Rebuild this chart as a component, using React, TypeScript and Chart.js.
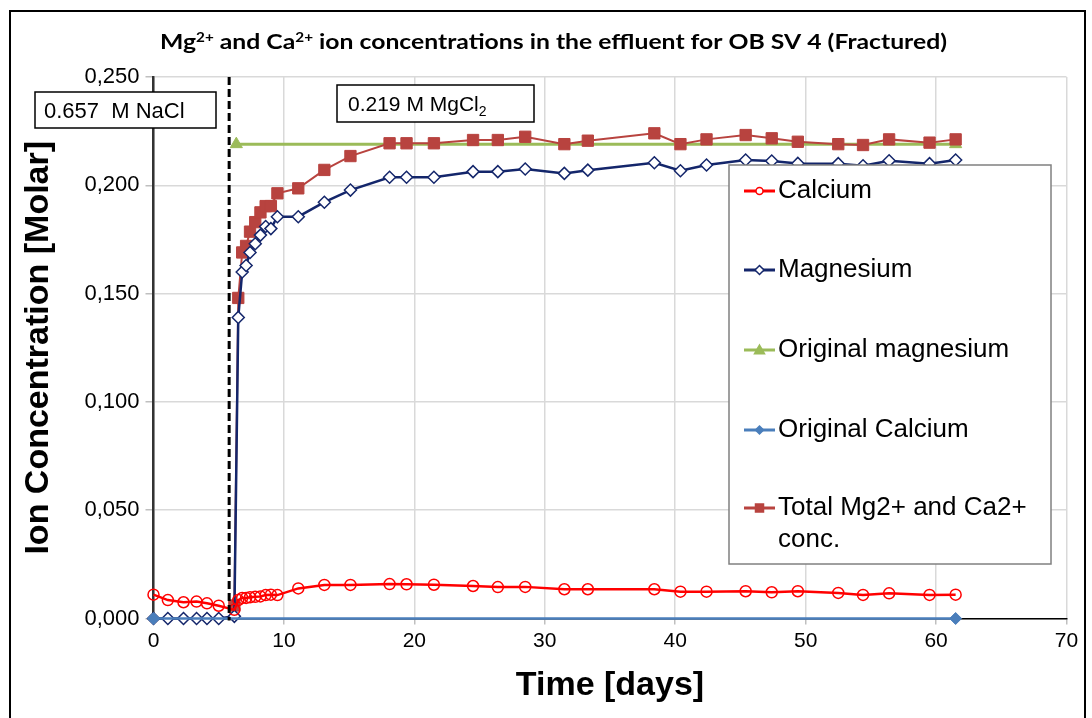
import React, { useEffect, useRef } from "react";
import { Chart, registerables } from "chart.js";

Chart.register(...registerables);

// ---- data ----
const days = [
  0, 1.1, 2.3, 3.3, 4.1, 5.0, 6.2, 6.5, 6.8, 7.1, 7.4, 7.8, 8.2, 8.6, 9.0, 9.5,
  11.1, 13.1, 15.1, 18.1, 19.4, 21.5, 24.5, 26.4, 28.5, 31.5, 33.3, 38.4, 40.4,
  42.4, 45.4, 47.4, 49.4, 52.5, 54.4, 56.4, 59.5, 61.5,
];
const calcium = [
  0.011, 0.0085, 0.0075, 0.0078, 0.007, 0.0059, 0.004, 0.0085, 0.0095, 0.0095,
  0.0098, 0.01, 0.0102, 0.0108, 0.011, 0.0108, 0.0139, 0.0155, 0.0155, 0.0159,
  0.0158, 0.0156, 0.015, 0.0145, 0.0146, 0.0135, 0.0135, 0.0135, 0.0124, 0.0124,
  0.0126, 0.0121, 0.0126, 0.0118, 0.0109, 0.0116, 0.0109, 0.011,
];
const magnesium = [
  0, 0, 0, 0, 0, 0, 0.001, 0.139, 0.16, 0.163, 0.169, 0.173, 0.177, 0.181, 0.18,
  0.1855, 0.1855, 0.1922, 0.1978, 0.2037, 0.2037, 0.2037, 0.2063, 0.2063, 0.2075,
  0.2055, 0.207, 0.2104, 0.2067, 0.2094, 0.2117, 0.2112, 0.2101, 0.21, 0.209,
  0.2113, 0.21, 0.2117,
];
const total = [
  null, null, null, null, null, null, 0.006, 0.148, 0.169, 0.172, 0.1786, 0.183,
  0.1875, 0.1904, 0.1904, 0.1963, 0.1986, 0.2071, 0.2135, 0.2194, 0.2194, 0.2194,
  0.2209, 0.2209, 0.2224, 0.219, 0.2206, 0.224, 0.219, 0.2212, 0.2232, 0.2217,
  0.2201, 0.219, 0.2186, 0.2212, 0.2197, 0.2212,
];
const origMgDays = [6.35, 61.5];
const origMgValues = [0.219, 0.219];
const origCaDays = [0, 61.5];
const origCaValues = [0, 0];
const injectionDay = 5.8;

const xTicks = [0, 10, 20, 30, 40, 50, 60, 70];
const yTicks = [0, 0.05, 0.1, 0.15, 0.2, 0.25];

const seriesNames = [
  "Calcium",
  "Magnesium",
  "Original magnesium",
  "Original Calcium",
  "Total Mg2+ and Ca2+ conc.",
];

const RED = "#ff0000";
const NAVY = "#14266b";
const GREEN = "#9bbb59";
const STEEL = "#4a7ebb";
const BROWN = "#b8433f";

const pts = (xs: number[], ys: (number | null)[]) =>
  xs
    .map((x, i) => ({ x, y: ys[i] }))
    .filter((p) => p.y !== null) as { x: number; y: number }[];

const ARIAL = "'Liberation Sans', Arial, sans-serif";

function drawMarker(
  ctx: CanvasRenderingContext2D,
  style: string,
  x: number,
  y: number,
  r: number,
  fill: string,
  stroke: string,
  lw: number
) {
  ctx.save();
  ctx.beginPath();
  if (style === "circle") {
    ctx.arc(x, y, r, 0, Math.PI * 2);
  } else if (style === "diamond") {
    ctx.moveTo(x, y - r);
    ctx.lineTo(x + r, y);
    ctx.lineTo(x, y + r);
    ctx.lineTo(x - r, y);
    ctx.closePath();
  } else if (style === "triangle") {
    ctx.moveTo(x, y - r);
    ctx.lineTo(x + r, y + r * 0.75);
    ctx.lineTo(x - r, y + r * 0.75);
    ctx.closePath();
  } else {
    ctx.rect(x - r, y - r, 2 * r, 2 * r);
  }
  if (fill) {
    ctx.fillStyle = fill;
    ctx.fill();
  }
  if (stroke) {
    ctx.strokeStyle = stroke;
    ctx.lineWidth = lw;
    ctx.stroke();
  }
  ctx.restore();
}

const overlay = {
  id: "overlay",
  afterDatasetsDraw(chart: any) {
    const { ctx, chartArea } = chart;
    const x = chart.scales.x.getPixelForValue(injectionDay);
    ctx.save();
    ctx.strokeStyle = "#000";
    ctx.lineWidth = 3;
    ctx.setLineDash([8, 4]);
    ctx.beginPath();
    ctx.moveTo(x, chartArea.top);
    ctx.lineTo(x, chartArea.bottom + 2);
    ctx.stroke();
    ctx.restore();
  },
  afterDraw(chart: any) {
    const { ctx } = chart;
    ctx.save();

    // outer border
    ctx.strokeStyle = "#000";
    ctx.lineWidth = 2;
    ctx.strokeRect(10, 11, 1075, 730);

    // title with superscripts
    const segs = [
      { t: "Mg", sup: false },
      { t: "2+", sup: true },
      { t: " and Ca", sup: false },
      { t: "2+", sup: true },
      { t: " ion concentrations in the effluent for OB SV 4 (Fractured)", sup: false },
    ];
    const mainFont = "bold 21px Lato, 'Open Sans', sans-serif";
    const supFont = "bold 13px Lato, 'Open Sans', sans-serif";
    let w = 0;
    for (const s of segs) {
      ctx.font = s.sup ? supFont : mainFont;
      w += ctx.measureText(s.t).width;
    }
    const targetW = 787;
    const sx = targetW / w;
    ctx.save();
    ctx.translate(160, 49);
    ctx.scale(sx, 1);
    ctx.fillStyle = "#000";
    ctx.textBaseline = "alphabetic";
    let cx = 0;
    for (const s of segs) {
      ctx.font = s.sup ? supFont : mainFont;
      ctx.fillText(s.t, cx, s.sup ? -7 : 0);
      cx += ctx.measureText(s.t).width;
    }
    ctx.restore();

    // NaCl annotation box
    ctx.fillStyle = "#fff";
    ctx.fillRect(35, 92, 181, 36);
    ctx.strokeStyle = "#000";
    ctx.lineWidth = 1.5;
    ctx.strokeRect(35, 92, 181, 36);
    ctx.fillStyle = "#000";
    ctx.font = `22px ${ARIAL}`;
    ctx.textBaseline = "alphabetic";
    ctx.fillText("0.657  M NaCl", 44, 118);

    // MgCl2 annotation box
    ctx.fillStyle = "#fff";
    ctx.fillRect(337, 85, 197, 37);
    ctx.strokeRect(337, 85, 197, 37);
    ctx.fillStyle = "#000";
    ctx.font = `21px ${ARIAL}`;
    const mtxt = "0.219 M MgCl";
    ctx.fillText(mtxt, 348, 111);
    const mw = ctx.measureText(mtxt).width;
    ctx.font = `14px ${ARIAL}`;
    ctx.fillText("2", 348 + mw, 116);

    // legend
    const lx = 729, ly = 165, lw = 322, lh = 399;
    ctx.fillStyle = "#fff";
    ctx.fillRect(lx, ly, lw, lh);
    ctx.strokeStyle = "#808080";
    ctx.lineWidth = 1.5;
    ctx.strokeRect(lx, ly, lw, lh);
    const entries = [
      { color: RED, style: "circle", fill: "#fff", r: 3.5, y: 191, lines: [seriesNames[0]] },
      { color: NAVY, style: "diamond", fill: "#fff", r: 4.5, y: 270, lines: [seriesNames[1]] },
      { color: GREEN, style: "triangle", fill: GREEN, r: 5, y: 350, lines: [seriesNames[2]] },
      { color: STEEL, style: "diamond", fill: STEEL, r: 4, y: 430, lines: [seriesNames[3]] },
      { color: BROWN, style: "rect", fill: BROWN, r: 4, y: 508, lines: ["Total Mg2+ and Ca2+", "conc."] },
    ];
    ctx.font = `26px ${ARIAL}`;
    ctx.textBaseline = "middle";
    for (const e of entries) {
      ctx.strokeStyle = e.color;
      ctx.lineWidth = 3;
      ctx.beginPath();
      ctx.moveTo(744, e.y);
      ctx.lineTo(775, e.y);
      ctx.stroke();
      drawMarker(ctx, e.style, 759.5, e.y, e.r, e.fill, e.color, 1.5);
      ctx.fillStyle = "#000";
      e.lines.forEach((t, i) => ctx.fillText(t, 778, e.y + i * 32));
    }
    ctx.restore();
  },
};

export default function App() {
  const ref = useRef<HTMLCanvasElement | null>(null);

  useEffect(() => {
    document.body.style.margin = "0";
    const canvas = ref.current;
    if (!canvas) return;
    Chart.defaults.font.family = ARIAL;
    const chart = new Chart(canvas, {
      type: "line",
      data: {
        datasets: [
          {
            label: seriesNames[0],
            data: pts(days, calcium),
            borderColor: RED,
            borderWidth: 2.5,
            pointStyle: "circle",
            pointRadius: 5.5,
            pointBorderWidth: 1.5,
            pointBorderColor: RED,
            pointBackgroundColor: "rgba(255,255,255,0)",
            order: 1,
            clip: false,
          },
          {
            label: seriesNames[1],
            data: pts(days, magnesium),
            borderColor: NAVY,
            borderWidth: 2.5,
            pointStyle: "rectRot",
            pointRadius: 6,
            pointBorderWidth: 1.5,
            pointBorderColor: NAVY,
            pointBackgroundColor: "#fff",
            order: 2,
            clip: false,
          },
          {
            label: seriesNames[2],
            data: pts(origMgDays, origMgValues),
            borderColor: GREEN,
            borderWidth: 3,
            pointStyle: "triangle",
            pointRadius: 7,
            pointBorderWidth: 1,
            pointBorderColor: GREEN,
            pointBackgroundColor: GREEN,
            order: 5,
            clip: false,
          },
          {
            label: seriesNames[3],
            data: pts(origCaDays, origCaValues),
            borderColor: STEEL,
            borderWidth: 2.5,
            pointStyle: "rectRot",
            pointRadius: 6,
            pointBorderWidth: 1,
            pointBorderColor: STEEL,
            pointBackgroundColor: STEEL,
            order: 0,
            clip: false,
          },
          {
            label: seriesNames[4],
            data: pts(days, total),
            borderColor: BROWN,
            borderWidth: 2,
            pointStyle: "rect",
            pointRadius: 8,
            pointBorderWidth: 1,
            pointBorderColor: BROWN,
            pointBackgroundColor: BROWN,
            order: 3,
            clip: false,
          },
        ],
      },
      options: {
        animation: false,
        responsive: false,
        devicePixelRatio: 1,
        events: [],
        layout: { padding: { left: 0, top: 77, right: 25.5, bottom: 0 } },
        plugins: {
          legend: { display: false },
          tooltip: { enabled: false },
          title: { display: false },
        },
        scales: {
          x: {
            type: "linear",
            min: xTicks[0],
            max: xTicks[xTicks.length - 1],
            afterBuildTicks: (s: any) => {
              s.ticks = xTicks.map((v) => ({ value: v }));
            },
            afterFit: (s: any) => {
              s.height = 99.5;
            },
            ticks: {
              font: { size: 21 },
              color: "#000",
              padding: 4,
              callback: (v: any) => String(v),
            },
            grid: {
              color: "#d9d9d9",
              lineWidth: 1.5,
              tickLength: 6,
              tickColor: "#bfbfbf",
            },
            border: { color: "#000", width: 1.5 },
            title: {
              display: true,
              text: "Time [days]",
              color: "#000",
              font: { size: 34, weight: "bold" },
              padding: { top: 0, bottom: 12 },
            },
          },
          y: {
            type: "linear",
            min: yTicks[0],
            max: yTicks[yTicks.length - 1],
            afterBuildTicks: (s: any) => {
              s.ticks = yTicks.map((v) => ({ value: v }));
            },
            afterFit: (s: any) => {
              s.width = 153.5;
            },
            ticks: {
              font: { size: 22 },
              color: "#000",
              padding: 6,
              callback: (v: any) => Number(v).toFixed(3).replace(".", ","),
            },
            grid: {
              color: "#d9d9d9",
              lineWidth: 1.5,
              tickLength: 8,
              tickColor: "#bfbfbf",
            },
            border: { color: "#333", width: 2.5 },
            title: {
              display: true,
              text: "Ion Concentration [Molar]",
              color: "#000",
              font: { size: 34, weight: "bold" },
              padding: { top: 18, bottom: 0 },
            },
          },
        },
      },
      plugins: [overlay],
    });
    return () => chart.destroy();
  }, []);

  return (
    <div style={{ position: "absolute", left: 0, top: 0, width: 1092, height: 718, background: "#fff" }}>
      <canvas ref={ref} width={1092} height={718} />
    </div>
  );
}
